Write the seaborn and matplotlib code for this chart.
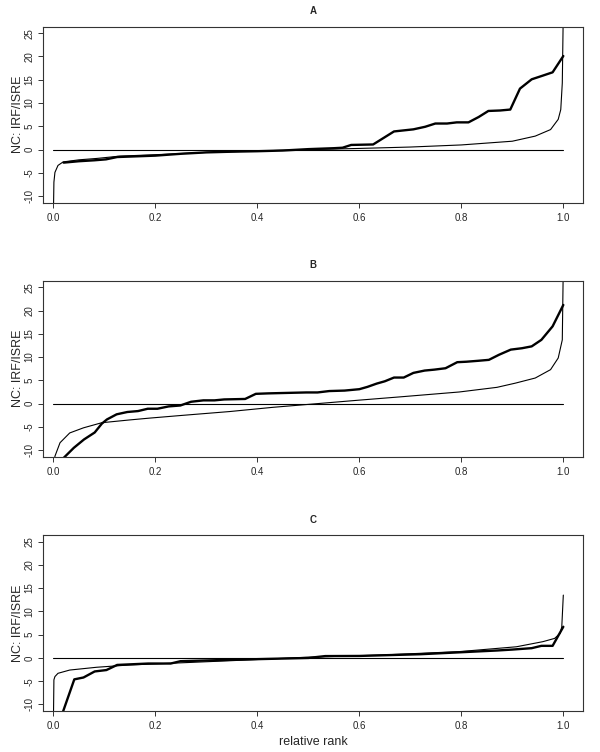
import numpy as np
import pandas as pd
import seaborn as sns
import matplotlib
matplotlib.use("Agg")
import matplotlib.pyplot as plt

# Panel titles and axis text
panel_titles = ["A", "B", "C"]
y_label = "NC: IRF/ISRE"
x_label = "relative rank"
x_ticks = [0.0, 0.2, 0.4, 0.6, 0.8, 1.0]
y_ticks = [-10, -5, 0, 5, 10, 15, 20, 25]

a_obs_x = [0.02, 0.05, 0.08, 0.103, 0.125, 0.2, 0.25, 0.3, 0.35, 0.4, 0.45, 0.5, 0.55, 0.567,
           0.584, 0.627, 0.668, 0.706, 0.729, 0.749, 0.772, 0.791, 0.814, 0.834, 0.853, 0.876,
           0.896, 0.915, 0.938, 0.96, 0.979, 1.0]
a_obs_y = [-2.8, -2.5, -2.3, -2.1, -1.6, -1.3, -0.9, -0.6, -0.45, -0.35, -0.2, 0.1, 0.3, 0.4,
           1.0, 1.1, 3.9, 4.35, 4.9, 5.6, 5.6, 5.85, 5.85, 7.0, 8.3, 8.4,
           8.6, 13.1, 15.1, 15.9, 16.6, 20.1]
a_exp_x = [0.0, 0.001, 0.003, 0.009, 0.019, 0.05, 0.085, 0.13, 0.2, 0.3, 0.4, 0.5, 0.6, 0.7,
           0.8, 0.9, 0.945, 0.975, 0.99, 0.995, 0.998, 1.0]
a_exp_y = [-14, -7.0, -4.9, -3.4, -2.65, -2.2, -1.9, -1.4, -1.1, -0.6, -0.3, 0.0, 0.25, 0.55,
           1.0, 1.8, 2.9, 4.3, 6.5, 8.6, 14.3, 30]

# Panel B
b_obs_x = [0.017, 0.04, 0.06, 0.081, 0.095, 0.105, 0.124, 0.145, 0.166, 0.185, 0.204, 0.226,
           0.249, 0.27, 0.294, 0.316, 0.335, 0.376, 0.397, 0.421, 0.458, 0.496, 0.518, 0.541,
           0.571, 0.6, 0.616, 0.634, 0.65, 0.668, 0.687, 0.706, 0.728, 0.747, 0.769, 0.792,
           0.81, 0.833, 0.854, 0.874, 0.897, 0.919, 0.938, 0.957, 0.979, 1.0]
b_obs_y = [-12.0, -9.5, -7.7, -6.2, -4.3, -3.4, -2.3, -1.8, -1.6, -1.1, -1.1, -0.6,
           -0.4, 0.4, 0.7, 0.7, 0.9, 1.0, 2.1, 2.2, 2.3, 2.4, 2.4, 2.7,
           2.8, 3.1, 3.6, 4.3, 4.8, 5.6, 5.6, 6.6, 7.1, 7.3, 7.6, 8.9,
           9.0, 9.2, 9.4, 10.5, 11.6, 11.9, 12.3, 13.7, 16.6, 21.2]
b_exp_x = [0.001, 0.003, 0.013, 0.032, 0.059, 0.095, 0.15, 0.19, 0.25, 0.346, 0.43, 0.518,
           0.6, 0.68, 0.796, 0.87, 0.906, 0.945, 0.975, 0.99, 0.998, 1.0]
b_exp_y = [-14, -11.3, -8.4, -6.3, -5.2, -4.1, -3.5, -3.1, -2.55, -1.7, -0.8, 0.0,
           0.75, 1.45, 2.5, 3.5, 4.4, 5.5, 7.3, 9.8, 13.7, 30]

# Panel C
c_obs_x = [0.018, 0.041, 0.059, 0.081, 0.104, 0.125, 0.186, 0.23, 0.249, 0.346, 0.5, 0.533,
           0.6, 0.72, 0.87, 0.9, 0.938, 0.957, 0.979, 1.0]
c_obs_y = [-11.8, -4.6, -4.2, -2.9, -2.6, -1.5, -1.2, -1.2, -0.7, -0.4, 0.0, 0.4,
           0.43, 0.8, 1.6, 1.8, 2.1, 2.6, 2.6, 6.7]
c_exp_x = [0.0, 0.001, 0.003, 0.009, 0.032, 0.085, 0.15, 0.196, 0.346, 0.496, 0.646, 0.796,
           0.908, 0.96, 0.983, 0.994, 0.997, 1.0]
c_exp_y = [-14, -4.7, -4.0, -3.3, -2.6, -2.0, -1.5, -1.3, -0.6, 0.14, 0.64, 1.36,
           2.4, 3.5, 4.2, 5.3, 6.7, 13.5]

# zero reference line
zero_x = [0.0, 1.0]
zero_y = [0.0, 0.0]

panels = [
    (a_obs_x, a_obs_y, a_exp_x, a_exp_y),
    (b_obs_x, b_obs_y, b_exp_x, b_exp_y),
    (c_obs_x, c_obs_y, c_exp_x, c_exp_y),
]

sns.set_style("ticks")
plt.rcParams["font.family"] = ["Liberation Sans", "DejaVu Sans"]

fig = plt.figure(figsize=(6, 7.52), dpi=100)
bottoms = [0.7305, 0.3927, 0.0545]

for i, (ox, oy, ex, ey) in enumerate(panels):
    ax = fig.add_axes([0.072, bottoms[i], 0.900, 0.234])
    obs = pd.DataFrame({"x": ox, "y": oy})
    exp = pd.DataFrame({"x": ex, "y": ey})
    zero = pd.DataFrame({"x": zero_x, "y": zero_y})

    sns.lineplot(data=zero, x="x", y="y", ax=ax, color="black", linewidth=0.8,
                 estimator=None, sort=False)
    sns.lineplot(data=exp, x="x", y="y", ax=ax, color="black", linewidth=0.8,
                 estimator=None, sort=False)
    sns.lineplot(data=obs, x="x", y="y", ax=ax, color="black", linewidth=1.7,
                 estimator=None, sort=False)

    ax.set_xlim(-0.020, 1.039)
    ax.set_ylim(-11.4, 26.4)
    ax.set_xticks(x_ticks)
    ax.set_xticklabels([f"{t:.1f}" for t in x_ticks])
    ax.set_yticks(y_ticks)
    ax.set_yticklabels([str(t) for t in y_ticks], rotation=90, va="center")
    ax.tick_params(axis="both", labelsize=7, length=3.5, width=0.7, color="#333333",
                   direction="out")
    ax.tick_params(axis="x", pad=4)
    ax.tick_params(axis="y", pad=3)
    for s in ax.spines.values():
        s.set_visible(True)
        s.set_color("#333333")
        s.set_linewidth(0.8)

    ax.set_title(panel_titles[i], fontsize=7, fontweight="bold", pad=9)
    ax.set_ylabel(y_label, fontsize=9, labelpad=0)
    if i == 2:
        ax.set_xlabel(x_label, fontsize=9, labelpad=3)
    else:
        ax.set_xlabel("")

fig.savefig("out.png", dpi=100)
